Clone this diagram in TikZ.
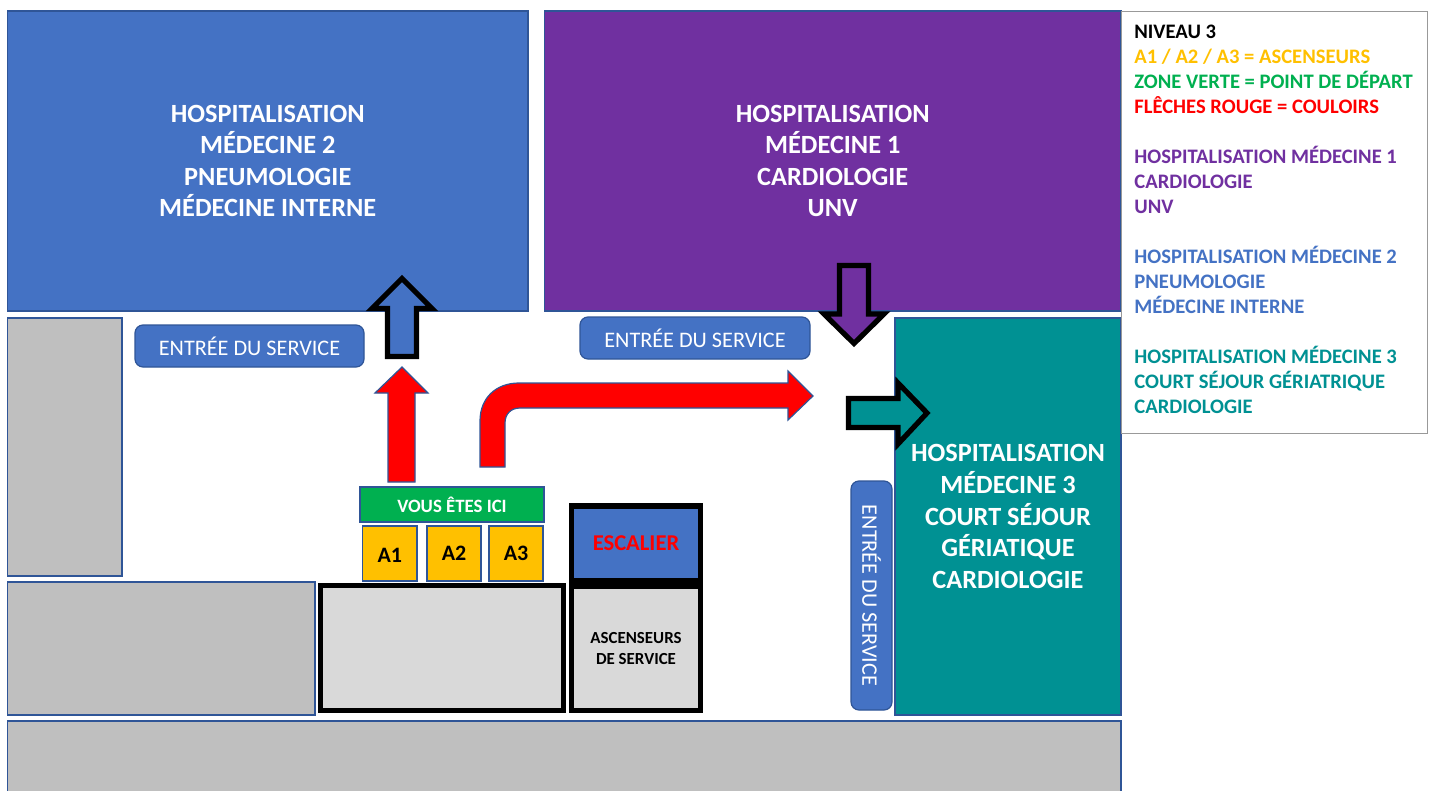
\documentclass[tikz,border=0pt]{standalone}
\usepackage{fontspec}
\setmainfont{Carlito}
\usetikzlibrary{calc}
\definecolor{bleuzone}{HTML}{4472C4}
\definecolor{bordzone}{HTML}{2F5597}
\definecolor{violetzone}{HTML}{7030A0}
\definecolor{tealzone}{HTML}{009193}
\definecolor{jaunezone}{HTML}{FFC000}
\definecolor{vertzone}{HTML}{00B050}
\definecolor{grisfonce}{HTML}{BFBFBF}
\definecolor{grisclair}{HTML}{D9D9D9}
\tikzset{
	zone/.style={draw=bordzone,line width=0.6pt},
	mur/.style={draw=black,line width=2.6pt,fill=grisclair},
	titre/.style={text=white,font=\fontsize{13.15}{15.8}\selectfont\bfseries,align=center},
	entree/.style={text=white,font=\fontsize{11.1}{13}\selectfont},
	ascenseur/.style={zone,fill=jaunezone},
	fleche/.style={draw=black,line width=2.6pt,miter limit=10},
	couloir/.style={draw=bordzone,line width=0.6pt,fill=red}
}
\begin{document}
\begin{tikzpicture}[x=0.5pt,y=-0.5pt]
	\useasboundingbox (0,0) rectangle (1434,791);
	
	% services
	\draw[zone,fill=bleuzone] (7.5,11) rectangle (528,311) node[midway,titre] (MED2) {HOSPITALISATION\\MÉDECINE 2\\PNEUMOLOGIE\\MÉDECINE INTERNE};
	\draw[zone,fill=violetzone] (544.5,11) rectangle (1121,311) node[midway,titre] (MED1) {HOSPITALISATION\\MÉDECINE 1\\CARDIOLOGIE\\UNV};
	\draw[zone,fill=tealzone] (895,318) rectangle (1121,715) node[midway,titre] (MED3) {HOSPITALISATION\\MÉDECINE 3\\COURT SÉJOUR\\GÉRIATIQUE\\CARDIOLOGIE};
	
	% zones grises
	\draw[zone,fill=grisfonce] (7.5,318) rectangle (122,576);
	\draw[zone,fill=grisfonce] (7.5,582) rectangle (315,715);
	\draw[zone,fill=grisfonce] (7.5,721) rectangle (1121,800);
	
	% noyau central
	\draw[mur] (320.5,585.5) rectangle (563.5,710.5);
	\draw[mur,fill=bleuzone] (571.5,506) rectangle (700.5,581) node[midway,text=red,font=\fontsize{11.3}{13}\selectfont\bfseries] (ESC) {ESCALIER};
	\draw[mur] (571.5,586) rectangle (700.5,710.5) node[midway,align=center,font=\fontsize{8.45}{10.6}\selectfont\bfseries] (ASC) {ASCENSEURS\\DE SERVICE};
	
	% depart et ascenseurs
	\draw[zone,fill=vertzone] (360,487) rectangle (544,522) node[midway,text=white,font=\fontsize{9.4}{10}\selectfont\bfseries] (ICI) {VOUS ÊTES ICI};
	\draw[ascenseur] (362.5,526) rectangle (417,581) node[midway,yshift=-0.8pt,font=\fontsize{11}{13}\selectfont\bfseries] (A1) {A1};
	\draw[ascenseur] (427,526) rectangle (481,581) node[midway,font=\fontsize{11}{13}\selectfont\bfseries] (A2) {A2};
	\draw[ascenseur] (489,526) rectangle (543,581) node[midway,font=\fontsize{11}{13}\selectfont\bfseries] (A3) {A3};
	
	% entrees
	\draw[zone,fill=bleuzone,rounded corners=4pt] (135,325) rectangle (364,367) node[midway,entree] (E2) {ENTRÉE DU SERVICE};
	\draw[zone,fill=bleuzone,rounded corners=4pt] (580,317) rectangle (810,359) node[midway,entree] (E1) {ENTRÉE DU SERVICE};
	\draw[zone,fill=bleuzone,rounded corners=4pt] (851,481) rectangle (892,710) node[midway,entree,rotate=-90] (E3) {ENTRÉE DU SERVICE};
	
	% couloirs
	\draw[couloir] (388,482) -- (388,393) -- (375,393) -- (402,367) -- (428,393) -- (415,393) -- (415,482) -- cycle;
	\draw[couloir] (480,467) -- (480,421) .. controls (480,398) and (496,383) .. (519,383) -- (788,383) -- (788,371) -- (813,396) -- (788,420) -- (788,408) -- (520,408) .. controls (511,408) and (505,414) .. (505,423) -- (505,467) -- cycle;
	
	% fleches vers les services
	\draw[fleche,fill=bleuzone] (387.5,356.5) -- (387.5,308.5) -- (372,308.5) -- (402,278.5) -- (432,308.5) -- (416.5,308.5) -- (416.5,356.5) -- cycle;
	\draw[fleche,fill=violetzone] (839.5,265.5) -- (839.5,314) -- (824,314) -- (854,343.5) -- (884,314) -- (868.5,314) -- (868.5,265.5) -- cycle;
	\draw[fleche,fill=tealzone] (848.5,398.5) -- (898,398.5) -- (898,383) -- (927,413) -- (898,444) -- (898,427.5) -- (848.5,427.5) -- cycle;
	
	% legende
	\draw[draw=black!40,line width=0.4pt,fill=white] (1121,11) rectangle (1427,433);
	\node[anchor=north west,inner sep=0pt,align=left,font=\fontsize{10.3}{12.5}\selectfont\bfseries] (LEG) at (1134,24.5) {%
		NIVEAU 3\\
		\textcolor{jaunezone}{A1 / A2 / A3 = ASCENSEURS}\\
		\textcolor{vertzone}{ZONE VERTE = POINT DE DÉPART}\\
		\textcolor{red}{FLÊCHES ROUGE = COULOIRS}\\[12.5pt]
		\textcolor{violetzone}{HOSPITALISATION MÉDECINE 1}\\
		\textcolor{violetzone}{CARDIOLOGIE}\\
		\textcolor{violetzone}{UNV}\\[12.5pt]
		\textcolor{bleuzone}{HOSPITALISATION MÉDECINE 2}\\
		\textcolor{bleuzone}{PNEUMOLOGIE}\\
		\textcolor{bleuzone}{MÉDECINE INTERNE}\\[12.5pt]
		\textcolor{tealzone}{HOSPITALISATION MÉDECINE 3}\\
		\textcolor{tealzone}{COURT SÉJOUR GÉRIATRIQUE}\\
		\textcolor{tealzone}{CARDIOLOGIE}};
\end{tikzpicture}
\end{document}
